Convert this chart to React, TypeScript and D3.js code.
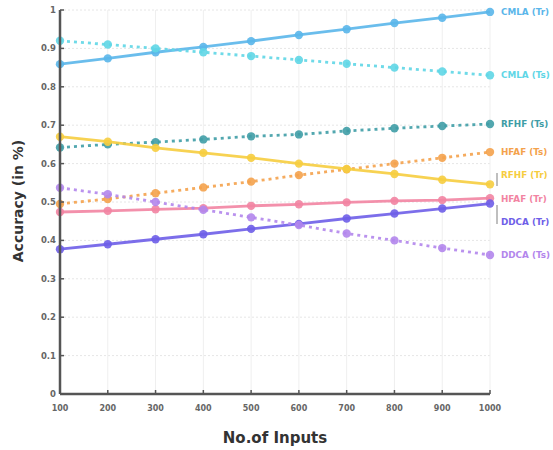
import React, { useEffect } from "react";
import * as d3 from "d3";

const inputs = [100, 200, 300, 400, 500, 600, 700, 800, 900, 1000];
const yTicks = [0, 0.1, 0.2, 0.3, 0.4, 0.5, 0.6, 0.7, 0.8, 0.9, 1];

const seriesNames = ["CMLA (Tr)", "CMLA (Ts)", "RFHF (Ts)", "HFAF (Ts)", "RFHF (Tr)", "HFAF (Tr)", "DDCA (Tr)", "DDCA (Ts)"];
const cmlaTr = [0.859, 0.874, 0.89, 0.904, 0.919, 0.935, 0.95, 0.966, 0.98, 0.995];
const cmlaTs = [0.92, 0.91, 0.9, 0.89, 0.88, 0.87, 0.86, 0.85, 0.84, 0.83];
const rfhfTs = [0.642, 0.65, 0.656, 0.663, 0.671, 0.676, 0.685, 0.692, 0.698, 0.703];
const hfafTs = [0.495, 0.508, 0.523, 0.538, 0.553, 0.57, 0.585, 0.6, 0.615, 0.63];
const rfhfTr = [0.67, 0.657, 0.641, 0.628, 0.615, 0.6, 0.586, 0.573, 0.558, 0.546];
const hfafTr = [0.474, 0.477, 0.481, 0.484, 0.49, 0.494, 0.499, 0.503, 0.505, 0.51];
const ddcaTr = [0.377, 0.39, 0.403, 0.416, 0.43, 0.443, 0.457, 0.47, 0.483, 0.496];
const ddcaTs = [0.537, 0.52, 0.5, 0.48, 0.46, 0.44, 0.418, 0.4, 0.38, 0.362];

const seriesValues = [cmlaTr, cmlaTs, rfhfTs, hfafTs, rfhfTr, hfafTr, ddcaTr, ddcaTs];
const seriesColors = ["#5ab6ea", "#5fd6e6", "#3f9da6", "#f4a24c", "#f6cd3f", "#f284a2", "#6e5ee8", "#b386ec"];
const seriesDashed = [false, true, true, true, false, false, false, true];
// end-label values (in data units) after de-overlapping
const labelValues = [0.995, 0.83, 0.703, 0.63, 0.57, 0.508, 0.447, 0.362];

export default function App() {
  useEffect(() => {
    document.body.style.margin = "0";
  }, []);
  const W = 553, H = 450;
  const x = d3.scaleLinear().domain([100, 1000]).range([60, 490]);
  const y = d3.scaleLinear().domain([0, 1]).range([394, 10]);
  const line = d3.line<number>().x((_, i) => x(inputs[i])).y((d) => y(d));
  const font = "'DejaVu Sans', sans-serif";
  const axisColor = "#555";

  return (
    <svg width={W} height={H} style={{ display: "block", background: "#fff" }} fontFamily={font}>
      {/* grid */}
      <g>
        {yTicks.slice(1).map((t) => (
          <line key={"gy" + t} x1={x(100)} x2={x(1000)} y1={y(t)} y2={y(t)} stroke="#e6e6e6" strokeWidth={1} strokeDasharray="2,2" />
        ))}
        {inputs.slice(1).map((t) => (
          <line key={"gx" + t} x1={x(t)} x2={x(t)} y1={y(0)} y2={y(1)} stroke="#efefef" strokeWidth={1} />
        ))}
      </g>
      {/* series */}
      {seriesValues.map((vals, si) => (
        <g key={seriesNames[si]}>
          <path
            d={line(vals) || ""}
            fill="none"
            stroke={seriesColors[si]}
            strokeWidth={2.8}
            strokeDasharray={seriesDashed[si] ? "3,4" : undefined}
            opacity={0.9}
          />
          {vals.map((v, i) => (
            <circle key={i} cx={x(inputs[i])} cy={y(v)} r={4.2} fill={seriesColors[si]} opacity={0.9} />
          ))}
          <text
            x={501}
            y={y(labelValues[si])}
            dy="0.35em"
            fontSize={8.8}
            fontWeight={700}
            fill={seriesColors[si]}
          >
            {seriesNames[si]}
          </text>
        </g>
      ))}
      {/* label bracket lines */}
      <line x1={497} x2={497} y1={173} y2={186} stroke="#aaa" strokeWidth={1.5} />
      <line x1={497} x2={497} y1={205} y2={224} stroke="#aaa" strokeWidth={1.5} />
      {/* axes */}
      <line x1={x(100)} x2={x(100)} y1={y(0)} y2={y(1)} stroke={axisColor} strokeWidth={2.5} />
      <line x1={x(100)} x2={x(1000)} y1={y(0)} y2={y(0)} stroke={axisColor} strokeWidth={2.5} />
      {yTicks.map((t) => (
        <g key={"yt" + t}>
          <line x1={x(100)} x2={x(100) + 4} y1={y(t)} y2={y(t)} stroke={axisColor} strokeWidth={1.5} />
          <text x={x(100) - 4} y={y(t)} dy="0.35em" textAnchor="end" fontSize={8.5} fontWeight={700} fill="#666">
            {d3.format("")(t)}
          </text>
        </g>
      ))}
      {inputs.map((t) => (
        <g key={"xt" + t}>
          <line x1={x(t)} x2={x(t)} y1={y(0)} y2={y(0) - 4} stroke={axisColor} strokeWidth={1.5} />
          <text x={x(t)} y={y(0) + 17} textAnchor="middle" fontSize={8} fontWeight={700} fill="#666">
            {t}
          </text>
        </g>
      ))}
      <text x={275} y={443} textAnchor="middle" fontSize={15} fontWeight={700} fill="#333">
        No.of Inputs
      </text>
      <text
        transform={`translate(23,201) rotate(-90)`}
        textAnchor="middle"
        fontSize={14}
        fontWeight={700}
        fill="#333"
      >
        Accuracy (in %)
      </text>
    </svg>
  );
}
